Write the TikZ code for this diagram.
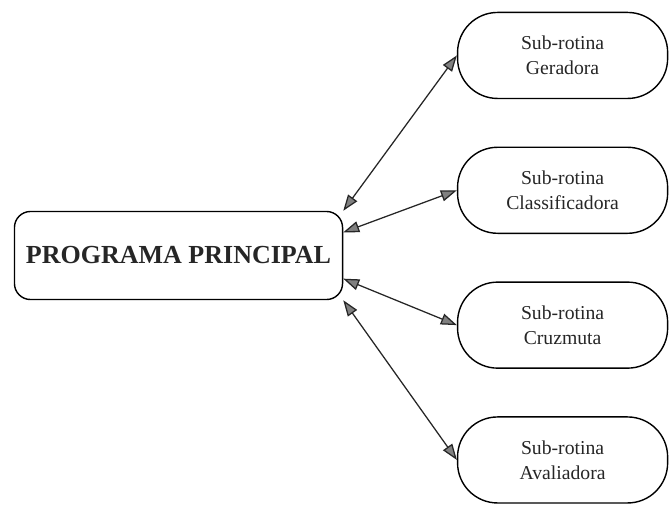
\documentclass[tikz,border=0pt]{standalone}
\usepackage{fontspec}
\setmainfont{Liberation Serif}
\usetikzlibrary{arrows.meta, positioning}

\begin{document}
\begin{tikzpicture} [x=0.025cm, y=-0.025cm, node distance = 3.37cm, on grid,
   principal/.style = {draw, line width=1pt, rounded corners=0.4cm, minimum width=8.2cm, minimum height=2.2cm, text=black!85, font=\fontsize{18.5}{22}\selectfont\bfseries},
   rotina/.style = {draw, line width=1pt, rounded corners=1cm, minimum width=5.25cm, minimum height=2.15cm, align=center, text=black!85, font=\fontsize{14}{18}\selectfont},
   liga/.style = {{Triangle[length=4mm, width=2.8mm, fill=gray]}-{Triangle[length=4mm, width=2.8mm, fill=gray]}, line width=0.9pt, color=black!85}]
   \useasboundingbox (0,0) rectangle (670,507);

   \node (prog)[principal] at (178.5,255.5) {PROGRAMA PRINCIPAL};
   \node (gera)[rotina, above right = 5cm and 9.6cm of prog] {Sub-rotina\\Geradora};
   \node (clas)[rotina, below = of gera] {Sub-rotina\\Classificadora};
   \node (cruz)[rotina, below = of clas] {Sub-rotina\\Cruzmuta};
   \node (aval)[rotina, below = of cruz] {Sub-rotina\\Avaliadora};

   \path[liga](prog.north east)edge(gera.west);
   \path[liga](prog.8)edge(clas.west);
   \path[liga](prog.-8)edge(cruz.west);
   \path[liga](prog.south east)edge(aval.west);
\end{tikzpicture}
\end{document}
